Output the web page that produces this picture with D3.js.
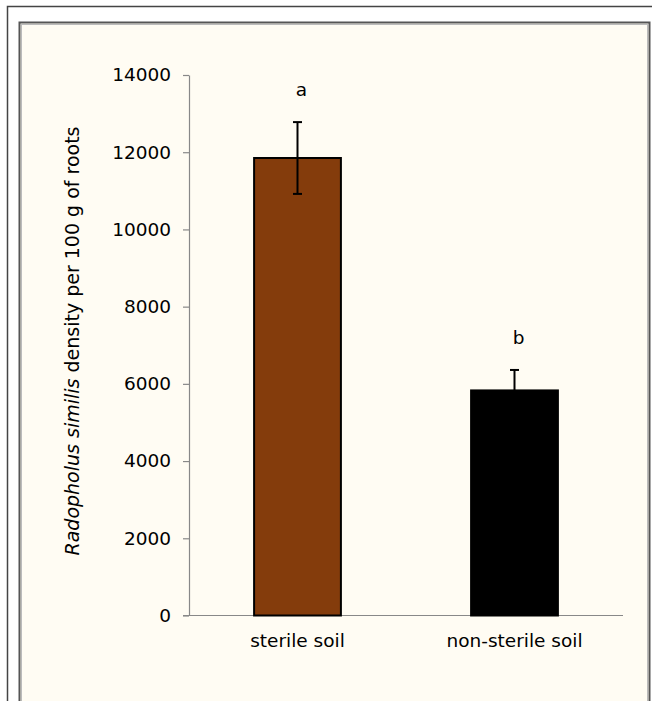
<!DOCTYPE html>
<html>
<head>
<meta charset="utf-8">
<script src="https://cdn.jsdelivr.net/npm/d3@7"></script>
<style>
  body { margin: 0; background: #fff; }
  text { font-family: "DejaVu Sans", sans-serif; fill: #000; }
</style>
</head>
<body>
<svg id="chart"></svg>
<script>
// data
var categories = ['sterile soil', 'non-sterile soil'];
var means = [11850, 5830];
var errors = [930, 530];
var letters = ['a', 'b'];
var barColors = ['#843c0c', '#000000'];
var yTicks = [0, 2000, 4000, 6000, 8000, 10000, 12000, 14000];

var W = 652, H = 701;
var svg = d3.select('#chart').attr('width', W).attr('height', H);

// frames
svg.append('rect').attr('x', 7.5).attr('y', 6.5).attr('width', 660).attr('height', 720)
  .attr('fill', '#fff').attr('stroke', '#444').attr('stroke-width', 1.5);
svg.append('rect').attr('x', 19.5).attr('y', 22.5).attr('width', 630).attr('height', 700)
  .attr('fill', '#fffcf3').attr('stroke', '#555').attr('stroke-width', 2);
svg.append('rect').attr('x', 21.5).attr('y', 24.5).attr('width', 626).attr('height', 700)
  .attr('fill', 'none').attr('stroke', '#bbb').attr('stroke-width', 1);

// plot area
var plotLeft = 189, plotRight = 623, plotTop = 75, plotBottom = 615.5;

var x = d3.scaleBand().domain(categories).range([plotLeft, plotRight])
  .paddingInner(0.6).paddingOuter(0.3);
var y = d3.scaleLinear().domain([0, 14000]).range([plotBottom, plotTop]);

// y axis
var yAxis = svg.append('g')
  .attr('transform', 'translate(' + plotLeft + ',0)')
  .call(d3.axisLeft(y).tickValues(yTicks).tickFormat(d3.format('d')).tickSize(6).tickPadding(12).tickSizeOuter(0));
yAxis.select('.domain').attr('stroke', '#888').attr('stroke-width', 1.2);
yAxis.selectAll('.tick line').attr('stroke', '#888').attr('stroke-width', 1.2);
yAxis.selectAll('.tick text').style('font-size', '18.5px').attr('font-family', null);

// x axis
svg.append('line')
  .attr('x1', plotLeft - 6).attr('x2', plotRight)
  .attr('y1', plotBottom).attr('y2', plotBottom)
  .attr('stroke', '#888').attr('stroke-width', 1.2);

// bars
svg.selectAll('rect.bar')
  .data(categories)
  .enter()
  .append('rect')
    .classed('bar', true)
    .attr('x', function(d) { return x(d); })
    .attr('y', function(d, i) { return y(means[i]); })
    .attr('width', x.bandwidth())
    .attr('height', function(d, i) { return y(0) - y(means[i]); })
    .attr('fill', function(d, i) { return barColors[i]; })
    .attr('stroke', '#000')
    .attr('stroke-width', 2);

// error bars and significance letters
var cap = 4.5;
categories.forEach(function(c, i) {
  var cx = x(c) + x.bandwidth() / 2;
  var g = svg.append('g').attr('stroke', '#000').attr('stroke-width', 2);
  g.append('line').attr('x1', cx).attr('x2', cx)
    .attr('y1', y(means[i] - errors[i])).attr('y2', y(means[i] + errors[i]));
  g.append('line').attr('x1', cx - cap).attr('x2', cx + cap)
    .attr('y1', y(means[i] + errors[i])).attr('y2', y(means[i] + errors[i]));
  if (i === 0) {
    g.append('line').attr('x1', cx - cap).attr('x2', cx + cap)
      .attr('y1', y(means[i] - errors[i])).attr('y2', y(means[i] - errors[i]));
  }
  svg.append('text')
    .attr('x', cx + 4)
    .attr('y', y(means[i] + errors[i]) - 26)
    .attr('text-anchor', 'middle')
    .style('font-size', '18.5px')
    .text(letters[i]);
});

// category labels
svg.selectAll('text.cat')
  .data(categories)
  .enter()
  .append('text')
    .classed('cat', true)
    .attr('x', function(d) { return x(d) + x.bandwidth() / 2; })
    .attr('y', 647)
    .attr('text-anchor', 'middle')
    .style('font-size', '18.5px')
    .text(function(d) { return d; });

// y axis title
var title = svg.append('text')
  .attr('transform', 'translate(79,341) rotate(-90)')
  .attr('text-anchor', 'middle')
  .style('font-size', '19px');
title.append('tspan').style('font-style', 'italic').text('Radopholus similis');
title.append('tspan').text(' density per 100 g of roots');
</script>
</body>
</html>
